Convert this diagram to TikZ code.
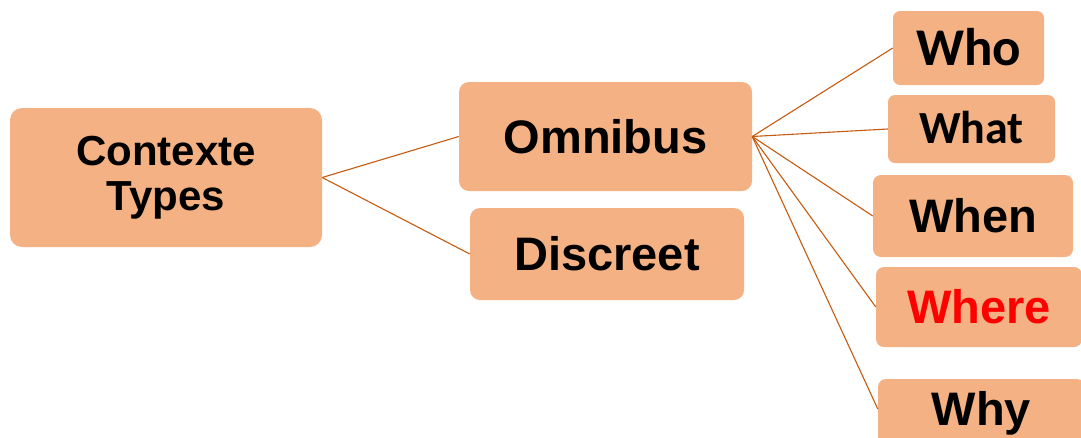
\documentclass[tikz,border=0pt]{standalone}
\usepackage{fontspec}
\setmainfont{Liberation Sans}
\newfontfamily\calibrifont{Carlito}
\definecolor{boxfill}{HTML}{F4B183}
\definecolor{linkcol}{HTML}{C55A11}
\definecolor{redtext}{HTML}{FF0000}
\begin{document}
\begin{tikzpicture}[x=1pt,y=-1pt,
  box/.style={fill=boxfill, draw=none, inner sep=0pt,
    text height=33.6pt, text depth=0pt, font=\fontsize{47}{50}\selectfont\bfseries},
  link/.style={draw=linkcol, line width=1.1pt}]
\useasboundingbox (0,0) rectangle (1081,437);
\clip (0,0) rectangle (1081,437);
\node[fill=boxfill, inner sep=0pt, rounded corners=12pt, minimum width=312pt, minimum height=139pt,
  align=center, font=\fontsize{42}{45}\selectfont\bfseries] (ctx) at (166,177.5) {Contexte\\Types};
\node[box, rounded corners=10pt, minimum width=293pt, minimum height=109pt] (omni) at (605.5,136.5) {Omnibus};
\node[box, rounded corners=10pt, minimum width=274pt, minimum height=92pt] (disc) at (607,254) {Discreet};
\node[box, rounded corners=7pt, minimum width=151pt, minimum height=74pt,
  font=\fontsize{53}{56}\selectfont\calibrifont\bfseries, text height=34pt] (who) at (968.5,48) {Who};
\node[box, rounded corners=7pt, minimum width=167pt, minimum height=68pt,
  font=\fontsize{46}{49}\selectfont\calibrifont\bfseries, text height=29.6pt] (what) at (971.5,129) {What};
\node[box, rounded corners=8pt, minimum width=200pt, minimum height=82pt] (when) at (973,216) {When};
\node[box, rounded corners=8pt, minimum width=206pt, minimum height=80pt, text=redtext] (where) at (979,307) {Where};
\node[box, rounded corners=8pt, minimum width=207pt, minimum height=66pt, text depth=7pt] (why) at (981.5,412) {Why};
\draw[link] (ctx.east) -- (omni.west);
\draw[link] (ctx.east) -- (disc.west);
\draw[link] (omni.east) -- (who.west);
\draw[link] (omni.east) -- (what.west);
\draw[link] (omni.east) -- (when.west);
\draw[link] (omni.east) -- (where.west);
\draw[link] (omni.east) -- ([yshift=3pt]why.west);
\end{tikzpicture}
\end{document}
